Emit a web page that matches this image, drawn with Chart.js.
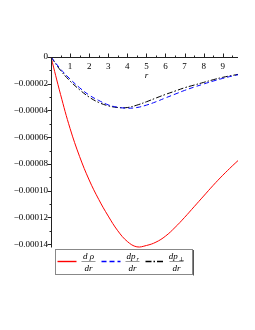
<!DOCTYPE html>
<html>
<head>
<meta charset="utf-8">
<script src="https://cdn.jsdelivr.net/npm/chart.js@4"></script>
<style>
html, body { margin: 0; padding: 0; background: #fff; }
</style>
</head>
<body>
<canvas id="myChart" width="255" height="330"></canvas>
<script>
// r values
const rValues = [0, 0.5, 1, 1.5, 2, 2.5, 3, 3.5, 4, 4.5, 5, 5.5, 6, 6.5, 7, 7.5, 8, 8.5, 9, 9.5, 9.8]

// d rho / dr
const dRho = [0, -2.8e-5, -5.35e-5, -7.45e-5, -9.2e-5, -1.065e-4, -1.19e-4, -1.3e-4, -1.38e-4, -1.42e-4,
  -1.41e-4, -1.385e-4, -1.34e-4, -1.275e-4, -1.2e-4, -1.12e-4, -1.04e-4, -0.96e-4, -0.885e-4, -0.815e-4, -0.775e-4]

// d p_r / dr
const dPr = [0, -0.9e-5, -1.65e-5, -2.3e-5, -2.85e-5, -3.25e-5, -3.58e-5, -3.76e-5, -3.83e-5, -3.78e-5,
  -3.6e-5, -3.35e-5, -3.06e-5, -2.78e-5, -2.5e-5, -2.25e-5, -2.02e-5, -1.8e-5, -1.6e-5, -1.42e-5, -1.33e-5]

// d p_perp / dr
const dPperp = [0, -1.0e-5, -1.8e-5, -2.45e-5, -3.0e-5, -3.4e-5, -3.65e-5, -3.78e-5, -3.78e-5, -3.6e-5,
  -3.35e-5, -3.07e-5, -2.8e-5, -2.55e-5, -2.3e-5, -2.1e-5, -1.9e-5, -1.7e-5, -1.52e-5, -1.38e-5, -1.3e-5]

const xTickValues = [1, 2, 3, 4, 5, 6, 7, 8, 9]
const xMinorTicks = [0.5, 1.5, 2.5, 3.5, 4.5, 5.5, 6.5, 7.5, 8.5, 9.5]
const yTickValues = [0, -0.00002, -0.00004, -0.00006, -0.00008, -0.0001, -0.00012, -0.00014]
const yMinorTicks = [-0.00001, -0.00003, -0.00005, -0.00007, -0.00009, -0.00011, -0.00013]

const seriesColors = ['#ff0000', '#0000ff', '#000000']
const seriesDashes = [[], [5, 3], [6, 2, 1.5, 2]]
const legendNums = ['d ρ', 'dp', 'dp']
const legendSubs = ['', 'r', '⊥']
const legendDen = 'dr'
const xTitle = 'r'

const serif = '"Liberation Serif", "DejaVu Serif", serif'

const toPoints = (ys) => ys.map((v, i) => ({ x: rValues[i], y: v }))

const fmtY = (v) => {
  if (Math.abs(v) < 1e-12) return '0'
  return '\u2212' + Math.abs(v).toFixed(5)
}

const axisMarks = {
  id: 'axisMarks',
  afterDraw(chart) {
    const { ctx, chartArea } = chart
    const x = chart.scales.x
    const y = chart.scales.y
    const y0 = Math.round(y.getPixelForValue(0)) + 0.5
    const x0 = Math.round(x.getPixelForValue(0)) + 0.5
    ctx.save()
    ctx.strokeStyle = '#222'
    ctx.lineWidth = 1
    ctx.beginPath()
    // axis lines
    ctx.moveTo(x0, y0)
    ctx.lineTo(chartArea.right, y0)
    ctx.moveTo(x0, y0)
    ctx.lineTo(x0, chartArea.bottom)
    // x ticks, pointing up
    xTickValues.forEach(v => {
      const px = Math.round(x.getPixelForValue(v)) + 0.5
      ctx.moveTo(px, y0)
      ctx.lineTo(px, y0 - 4)
    })
    xMinorTicks.forEach(v => {
      const px = Math.round(x.getPixelForValue(v)) + 0.5
      ctx.moveTo(px, y0)
      ctx.lineTo(px, y0 - 2)
    })
    // y ticks, pointing left
    yTickValues.forEach(v => {
      const py = Math.round(y.getPixelForValue(v)) + 0.5
      ctx.moveTo(x0, py)
      ctx.lineTo(x0 - 4, py)
    })
    yMinorTicks.forEach(v => {
      const py = Math.round(y.getPixelForValue(v)) + 0.5
      ctx.moveTo(x0, py)
      ctx.lineTo(x0 - 2, py)
    })
    ctx.stroke()

    // axis title r
    ctx.fillStyle = '#000'
    ctx.font = 'italic 9px ' + serif
    ctx.textAlign = 'center'
    ctx.textBaseline = 'middle'
    ctx.fillText(xTitle, x.getPixelForValue(5), y0 + 18)

    // legend box
    const bx = chartArea.left + 4
    const by = chartArea.bottom + 1.5
    const bw = 137
    const bh = 25
    ctx.strokeStyle = '#888'
    ctx.strokeRect(Math.round(bx) + 0.5, Math.round(by) + 0.5, bw, bh)
    ctx.beginPath()
    ctx.strokeStyle = '#555'
    ctx.moveTo(Math.round(bx + bw) + 1.5, Math.round(by) + 1)
    ctx.lineTo(Math.round(bx + bw) + 1.5, Math.round(by + bh) + 1.5)
    ctx.stroke()

    const midY = Math.round(by + bh / 2 - 0.5) + 0.5
    for (let i = 0; i < seriesColors.length; i++) {
      const lx = bx + 2.5 + i * 44
      ctx.beginPath()
      ctx.strokeStyle = seriesColors[i]
      ctx.lineWidth = 1.4
      ctx.setLineDash(seriesDashes[i])
      ctx.moveTo(lx, midY)
      ctx.lineTo(lx + 19, midY)
      ctx.stroke()
      ctx.setLineDash([])
      ctx.lineWidth = 1

      const fx = lx + 31
      ctx.beginPath()
      ctx.strokeStyle = '#999'
      ctx.moveTo(fx - 7, midY)
      ctx.lineTo(fx + 7, midY)
      ctx.stroke()

      ctx.fillStyle = '#000'
      ctx.font = 'italic 9px ' + serif
      ctx.textAlign = 'center'
      ctx.textBaseline = 'alphabetic'
      const num = legendNums[i]
      const sub = legendSubs[i]
      const nw = ctx.measureText(num).width
      if (sub) {
        ctx.font = '6px ' + serif
        const sw = ctx.measureText(sub).width
        ctx.font = 'italic 9px ' + serif
        ctx.textAlign = 'left'
        const startX = fx - (nw + sw + 1) / 2
        ctx.fillText(num, startX, midY - 2.5)
        ctx.font = (sub === 'r' ? 'italic ' : '') + '6px ' + serif
        ctx.fillText(sub, startX + nw + 1, midY - 0.5)
      } else {
        ctx.fillText(num, fx, midY - 2.5)
      }
      ctx.font = 'italic 9px ' + serif
      ctx.textAlign = 'center'
      ctx.fillText(legendDen, fx, midY + 9)
    }
    ctx.restore()
  }
}

const makeDataset = (values, i) => ({
  data: toPoints(values),
  borderColor: seriesColors[i],
  borderDash: seriesDashes[i],
  borderWidth: 1,
  pointRadius: 0,
  tension: 0.4,
  clip: false
})

const ctx = document.getElementById('myChart')
new Chart(ctx, {
  type: 'line',
  data: {
    datasets: [dRho, dPr, dPperp].map(makeDataset)
  },
  options: {
    responsive: false,
    animation: false,
    layout: {
      padding: { left: 0, right: 17, top: 57, bottom: 82.5 }
    },
    plugins: {
      legend: { display: false },
      tooltip: { enabled: false }
    },
    scales: {
      x: {
        type: 'linear',
        min: 0,
        max: 9.8,
        position: { y: 0 },
        afterBuildTicks: (s) => { s.ticks = xTickValues.map(v => ({ value: v })) },
        grid: { display: false, drawTicks: false },
        border: { display: false },
        ticks: {
          autoSkip: false,
          maxRotation: 0,
          padding: 4,
          color: '#000',
          font: { family: serif, size: 9 },
          callback: (v) => String(v)
        }
      },
      y: {
        type: 'linear',
        min: -0.0001425,
        max: 0,
        position: 'left',
        afterFit: (s) => { s.width = 51 },
        afterBuildTicks: (s) => { s.ticks = yTickValues.map(v => ({ value: v })) },
        grid: { display: false, drawTicks: false },
        border: { display: false },
        ticks: {
          autoSkip: false,
          padding: 3,
          color: '#000',
          font: { family: serif, size: 9 },
          callback: (v) => fmtY(v)
        }
      }
    }
  },
  plugins: [axisMarks]
})
</script>
</body>
</html>
